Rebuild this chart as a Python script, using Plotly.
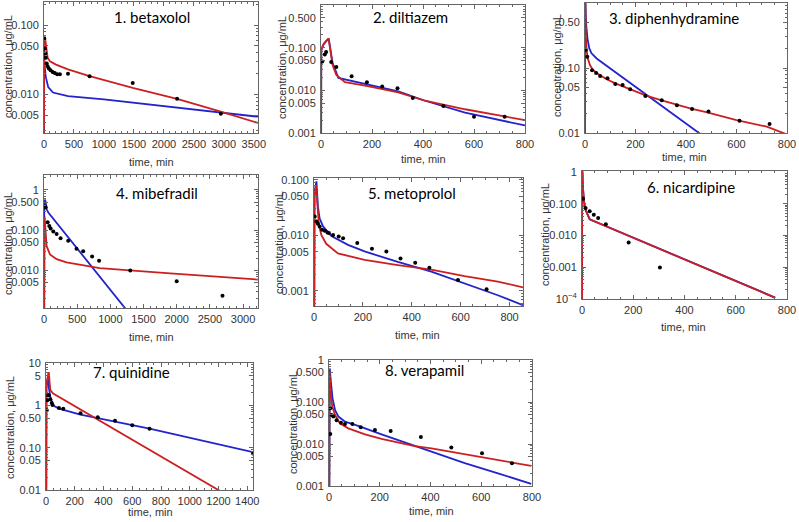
import math
import plotly.graph_objects as go

# observed points (time, min / concentration, ug/mL) and the two model curves per drug
betaxolol_t = [5, 15, 20, 30, 45, 60, 80, 110, 145, 180, 220, 265, 400, 760, 1480, 2220, 2950]
betaxolol_c = [0.064, 0.046, 0.039, 0.034, 0.028, 0.0256, 0.0237, 0.0224, 0.0212, 0.0205, 0.0196, 0.0196, 0.020, 0.0184, 0.0147, 0.0087, 0.0053]
betaxolol_red_t = [0, 1, 15, 25, 40, 60, 100, 200, 400, 760, 1480, 2220, 2950, 3570]
betaxolol_red_c = [1e-6, 0.04, 0.068, 0.055, 0.04, 0.034, 0.030, 0.027, 0.023, 0.0184, 0.0125, 0.0087, 0.0057, 0.0039]
betaxolol_blue_t = [0, 1, 10, 30, 70, 150, 400, 1000, 2000, 2950, 3570]
betaxolol_blue_c = [1e-6, 0.036, 0.026, 0.018, 0.0128, 0.0107, 0.0095, 0.0085, 0.0068, 0.0054, 0.0048]

diltiazem_t = [5, 15, 20, 40, 60, 120, 180, 240, 300, 360, 480, 600, 720]
diltiazem_c = [0.0475, 0.0696, 0.079, 0.046, 0.035, 0.0214, 0.0155, 0.0123, 0.0112, 0.0066, 0.0043, 0.0024, 0.0024]
diltiazem_red_t = [0, 1, 10, 20, 30, 36, 45, 60, 94, 173, 303, 408, 565, 800]
diltiazem_red_c = [1e-6, 0.09, 0.12, 0.145, 0.163, 0.1, 0.04, 0.023, 0.0155, 0.0129, 0.0089, 0.0057, 0.0036, 0.0020]
diltiazem_blue_t = [0, 1, 10, 20, 30, 36, 45, 68, 173, 303, 408, 565, 800]
diltiazem_blue_c = [1e-6, 0.09, 0.12, 0.145, 0.165, 0.1, 0.045, 0.0196, 0.0141, 0.0095, 0.0057, 0.003, 0.0015]

diphenhydramine_t = [3, 9, 28, 44, 60, 89, 120, 149, 179, 239, 304, 364, 424, 489, 612, 731]
diphenhydramine_c = [0.19, 0.149, 0.092, 0.084, 0.075, 0.0695, 0.0567, 0.0546, 0.047, 0.037, 0.032, 0.0267, 0.0234, 0.0215, 0.0155, 0.0137]
diphenhydramine_red_t = [0, 0.5, 3, 6, 10, 20, 30, 45, 60, 90, 120, 180, 240, 300, 360, 420, 480, 600, 720, 800]
diphenhydramine_red_c = [1e-6, 2, 0.35, 0.2, 0.145, 0.11, 0.095, 0.085, 0.077, 0.066, 0.058, 0.047, 0.038, 0.032, 0.0275, 0.0238, 0.021, 0.0158, 0.0125, 0.0095]
diphenhydramine_blue_t = [0, 0.5, 2, 5, 10, 17, 26, 46, 450, 520]
diphenhydramine_blue_c = [1e-6, 3, 0.9, 0.45, 0.28, 0.2, 0.168, 0.14, 0.01, 0.0064]

mibefradil_t = [15, 25, 55, 80, 100, 140, 190, 250, 365, 490, 590, 725, 830, 1300, 2000, 2690]
mibefradil_c = [0.386, 0.37, 0.158, 0.128, 0.11, 0.093, 0.080, 0.063, 0.0544, 0.0344, 0.030, 0.0222, 0.0174, 0.010, 0.0054, 0.00236]
mibefradil_red_t = [0, 2, 8, 15, 25, 40, 90, 190, 340, 840, 1850, 3230]
mibefradil_red_c = [1e-6, 0.15, 0.22, 0.15, 0.07, 0.04, 0.025, 0.019, 0.0158, 0.0114, 0.0086, 0.0059]
mibefradil_blue_t = [0, 3, 15, 25, 40, 65, 1260]
mibefradil_blue_c = [1e-6, 0.3, 0.58, 0.5, 0.33, 0.275, 0.00096]

metoprolol_t = [3, 10, 16, 23, 33, 44, 55, 61, 78, 101, 119, 177, 237, 296, 354, 414, 472, 589, 706]
metoprolol_c = [0.0217, 0.0177, 0.016, 0.0144, 0.0125, 0.012, 0.0112, 0.0109, 0.0101, 0.0095, 0.0088, 0.0072, 0.0057, 0.0051, 0.0038, 0.0032, 0.0026, 0.00156, 0.00106]
metoprolol_red_t = [0, 2, 8, 14, 20, 30, 50, 98, 207, 343, 480, 616, 752, 855]
metoprolol_red_c = [1e-6, 0.05, 0.08, 0.029, 0.0154, 0.0101, 0.007, 0.0047, 0.0036, 0.0029, 0.0024, 0.00184, 0.00146, 0.00115]
metoprolol_blue_t = [0, 2, 10, 16, 23, 37, 71, 139, 207, 343, 480, 616, 752, 855]
metoprolol_blue_c = [1e-6, 0.06, 0.093, 0.033, 0.020, 0.0144, 0.0097, 0.0067, 0.0051, 0.0033, 0.0022, 0.00136, 0.00083, 0.00055]

nicardipine_t = [4, 14, 30, 46, 63, 93, 182, 304]
nicardipine_c = [0.144, 0.073, 0.0575, 0.045, 0.0355, 0.0224, 0.006, 0.00098]
nicardipine_red_t = [0, 0.5, 4, 8, 14, 24, 30, 754]
nicardipine_red_c = [1e-6, 1.5, 0.295, 0.113, 0.062, 0.038, 0.032, 0.000109]
nicardipine_blue_t = [0, 0.5, 4, 8, 14, 24, 30, 754]
nicardipine_blue_c = [1e-6, 1.5, 0.31, 0.118, 0.064, 0.039, 0.0325, 0.000111]

quinidine_t = [5, 10, 15, 20, 30, 40, 45, 90, 120, 240, 360, 480, 600, 720, 1440]
quinidine_c = [0.77, 1.32, 1.73, 1.73, 1.4, 1.14, 1.02, 0.87, 0.83, 0.65, 0.52, 0.43, 0.34, 0.28, 0.073]
quinidine_red_t = [0, 3, 15, 20, 25, 30, 50, 1200, 1300]
quinidine_red_c = [1e-6, 3, 5.5, 6, 3.5, 2.3, 1.9, 0.01, 0.0063]
quinidine_blue_t = [0, 3, 10, 15, 20, 30, 45, 60, 90, 120, 240, 360, 480, 600, 720, 1440]
quinidine_blue_c = [1e-6, 2.5, 4.2, 4.0, 2.6, 1.6, 1.1, 0.95, 0.84, 0.78, 0.6, 0.5, 0.42, 0.34, 0.28, 0.078]

verapamil_t = [5, 5, 10, 17, 30, 47, 63, 92, 125, 181, 243, 362, 482, 603, 721]
verapamil_c = [0.0706, 0.0173, 0.049, 0.045, 0.037, 0.032, 0.030, 0.030, 0.025, 0.0216, 0.0204, 0.0147, 0.0083, 0.006, 0.0035]
verapamil_red_t = [0, 2, 7, 13, 24, 43, 76, 142, 207, 273, 338, 404, 535, 666, 797]
verapamil_red_c = [1e-6, 0.5, 0.16, 0.077, 0.049, 0.031, 0.0236, 0.017, 0.0132, 0.011, 0.0089, 0.0079, 0.0058, 0.0042, 0.0030]
verapamil_blue_t = [0, 3, 8, 14, 24, 37, 63, 115, 207, 273, 404, 535, 666, 797]
verapamil_blue_c = [1e-6, 0.63, 0.278, 0.122, 0.064, 0.045, 0.034, 0.027, 0.017, 0.0124, 0.0066, 0.0035, 0.002, 0.00112]

W, H = 799, 522
RED = "#cc2020"
BLUE = "#2323cc"
FRAME = "#666666"
LABEL_FONT = "Liberation Sans"
TICKFONT = dict(family=LABEL_FONT, size=11, color="#333333")

# box = (left, right, top, bottom) in pixels
panels = [
    dict(title="1. betaxolol", obs=(betaxolol_t, betaxolol_c), red=(betaxolol_red_t, betaxolol_red_c),
         blue=(betaxolol_blue_t, betaxolol_blue_c), box=(44, 258, 2, 133), xmax=3570, xd=500, xm=100,
         yr=(-2.553, -0.668), yt=[0.005, 0.01, 0.05, 0.1], yl=["0.005", "0.010", "0.050", "0.100"],
         tpos=(152, 17), ypos=(8, 67), xpos=(151, 162)),
    dict(title="2. diltiazem", obs=(diltiazem_t, diltiazem_c), red=(diltiazem_red_t, diltiazem_red_c),
         blue=(diltiazem_blue_t, diltiazem_blue_c), box=(321, 525, 5, 133), xmax=800, xd=200, xm=50,
         yr=(-3, 0), yt=[0.001, 0.005, 0.01, 0.05, 0.1, 0.5, 1],
         yl=["0.001", "0.005", "0.010", "0.050", "0.100", "0.500", "1"],
         tpos=(410, 17), ypos=(282, 68), xpos=(423, 159)),
    dict(title="3. diphenhydramine", obs=(diphenhydramine_t, diphenhydramine_c),
         red=(diphenhydramine_red_t, diphenhydramine_red_c), blue=(diphenhydramine_blue_t, diphenhydramine_blue_c),
         box=(585, 787, 3, 133), xmax=800, xd=200, xm=50,
         yr=(-2, 0), yt=[0.01, 0.05, 0.1, 0.5, 1], yl=["0.01", "0.05", "0.10", "0.50", "1"],
         tpos=(674, 18), ypos=(557, 66), xpos=(684, 157)),
    dict(title="4. mibefradil", obs=(mibefradil_t, mibefradil_c), red=(mibefradil_red_t, mibefradil_red_c),
         blue=(mibefradil_blue_t, mibefradil_blue_c), box=(44, 258, 175, 308), xmax=3225, xd=500, xm=100,
         yr=(-2.934, 0.372), yt=[0.005, 0.01, 0.05, 0.1, 0.5, 1],
         yl=["0.005", "0.010", "0.050", "0.100", "0.500", "1"],
         tpos=(157, 193), ypos=(8, 244), xpos=(151, 337)),
    dict(title="5. metoprolol", obs=(metoprolol_t, metoprolol_c), red=(metoprolol_red_t, metoprolol_red_c),
         blue=(metoprolol_blue_t, metoprolol_blue_c), box=(314, 523, 178, 306), xmax=855, xd=200, xm=50,
         yr=(-3.275, -0.97), yt=[0.001, 0.005, 0.01, 0.05, 0.1],
         yl=["0.001", "0.005", "0.010", "0.050", "0.100"],
         tpos=(412, 193), ypos=(279, 243), xpos=(417, 335)),
    dict(title="6. nicardipine", obs=(nicardipine_t, nicardipine_c), red=(nicardipine_red_t, nicardipine_red_c),
         blue=(nicardipine_blue_t, nicardipine_blue_c), box=(582, 787, 171, 299), xmax=800, xd=200, xm=50,
         yr=(-4, 0.03), yt=[0.0001, 0.001, 0.01, 0.1, 1],
         yl=["10<sup>\u22124</sup>", "0.001", "0.010", "0.100", "1"],
         tpos=(691, 187), ypos=(545, 235), xpos=(683, 327)),
    dict(title="7. quinidine", obs=(quinidine_t, quinidine_c), red=(quinidine_red_t, quinidine_red_c),
         blue=(quinidine_blue_t, quinidine_blue_c), box=(46, 253, 363, 490), xmax=1440, xd=200, xm=50,
         yr=(-2, 1), yt=[0.01, 0.05, 0.1, 0.5, 1, 5, 10],
         yl=["0.01", "0.05", "0.10", "0.50", "1", "5", "10"],
         tpos=(131, 372), ypos=(10, 428), xpos=(150, 512)),
    dict(title="8. verapamil", obs=(verapamil_t, verapamil_c), red=(verapamil_red_t, verapamil_red_c),
         blue=(verapamil_blue_t, verapamil_blue_c), box=(329, 532, 360, 486), xmax=800, xd=200, xm=50,
         yr=(-3, 0), yt=[0.001, 0.005, 0.01, 0.05, 0.1, 0.5, 1],
         yl=["0.001", "0.005", "0.010", "0.050", "0.100", "0.500", "1"],
         tpos=(424, 370), ypos=(293, 423), xpos=(431, 511)),
]


def minor_logs(lo, hi):
    vals = []
    for d in range(math.floor(lo) - 1, math.ceil(hi) + 1):
        for m in range(2, 10):
            v = m * 10 ** d
            if lo <= math.log10(v) <= hi:
                vals.append(v)
    return vals


fig = go.Figure()
annotations = []
for i, p in enumerate(panels, start=1):
    sfx = "" if i == 1 else str(i)
    xa, ya = "x" + sfx, "y" + sfx
    for key, col in (("blue", BLUE), ("red", RED)):
        t, c = p[key]
        fig.add_trace(go.Scatter(x=t, y=c, mode="lines", line=dict(color=col, width=1.8),
                                 xaxis=xa, yaxis=ya, showlegend=False, hoverinfo="skip"))
    t, c = p["obs"]
    fig.add_trace(go.Scatter(x=t, y=c, mode="markers", marker=dict(color="black", size=4),
                             xaxis=xa, yaxis=ya, showlegend=False))

    l, r, top, b = p["box"]
    fig.layout["xaxis" + sfx] = dict(
        domain=[l / W, r / W], anchor=ya, range=[0, p["xmax"]], dtick=p["xd"], tick0=0,
        automargin=False, showline=True, linecolor=FRAME, linewidth=1, mirror="allticks",
        ticks="inside", ticklen=4, tickcolor=FRAME, showgrid=False, zeroline=False,
        tickfont=TICKFONT, ticklabelstandoff=1, tickangle=0,
        minor=dict(ticks="inside", ticklen=2, dtick=p["xm"], tickcolor=FRAME, showgrid=False),
    )
    fig.layout["yaxis" + sfx] = dict(
        domain=[1 - b / H, 1 - top / H], anchor=xa, type="log", range=list(p["yr"]),
        tickmode="array", tickvals=p["yt"], ticktext=p["yl"], automargin=False,
        showline=True, linecolor=FRAME, linewidth=1, mirror="allticks", ticks="inside", ticklen=4,
        tickcolor=FRAME, showgrid=False, zeroline=False, tickfont=TICKFONT, ticklabelstandoff=2,
        minor=dict(ticks="inside", ticklen=2, tickmode="array", tickvals=minor_logs(*p["yr"]),
                   tickcolor=FRAME, showgrid=False),
    )

    annotations.append(dict(text=p["title"], x=p["tpos"][0] / W, y=1 - p["tpos"][1] / H,
                            xref="paper", yref="paper", showarrow=False, xanchor="center", yanchor="middle",
                            font=dict(family="Lato", size=15, color="black")))
    annotations.append(dict(text="concentration, \u03bcg/mL", x=p["ypos"][0] / W, y=1 - p["ypos"][1] / H,
                            xref="paper", yref="paper", showarrow=False, textangle=-90,
                            xanchor="center", yanchor="middle",
                            font=dict(family=LABEL_FONT, size=11, color="#333333")))
    annotations.append(dict(text="time, min", x=p["xpos"][0] / W, y=1 - p["xpos"][1] / H,
                            xref="paper", yref="paper", showarrow=False, xanchor="center", yanchor="middle",
                            font=dict(family=LABEL_FONT, size=11, color="#333333")))

fig.update_layout(width=W, height=H, margin=dict(l=0, r=0, t=0, b=0), template="none",
                  paper_bgcolor="white", plot_bgcolor="white", annotations=annotations,
                  showlegend=False)
# the page's default body margin would shift the figure by 8px
fig.write_html("out.html", config={"displayModeBar": False},
               post_script=["document.body.style.margin='0';"])
